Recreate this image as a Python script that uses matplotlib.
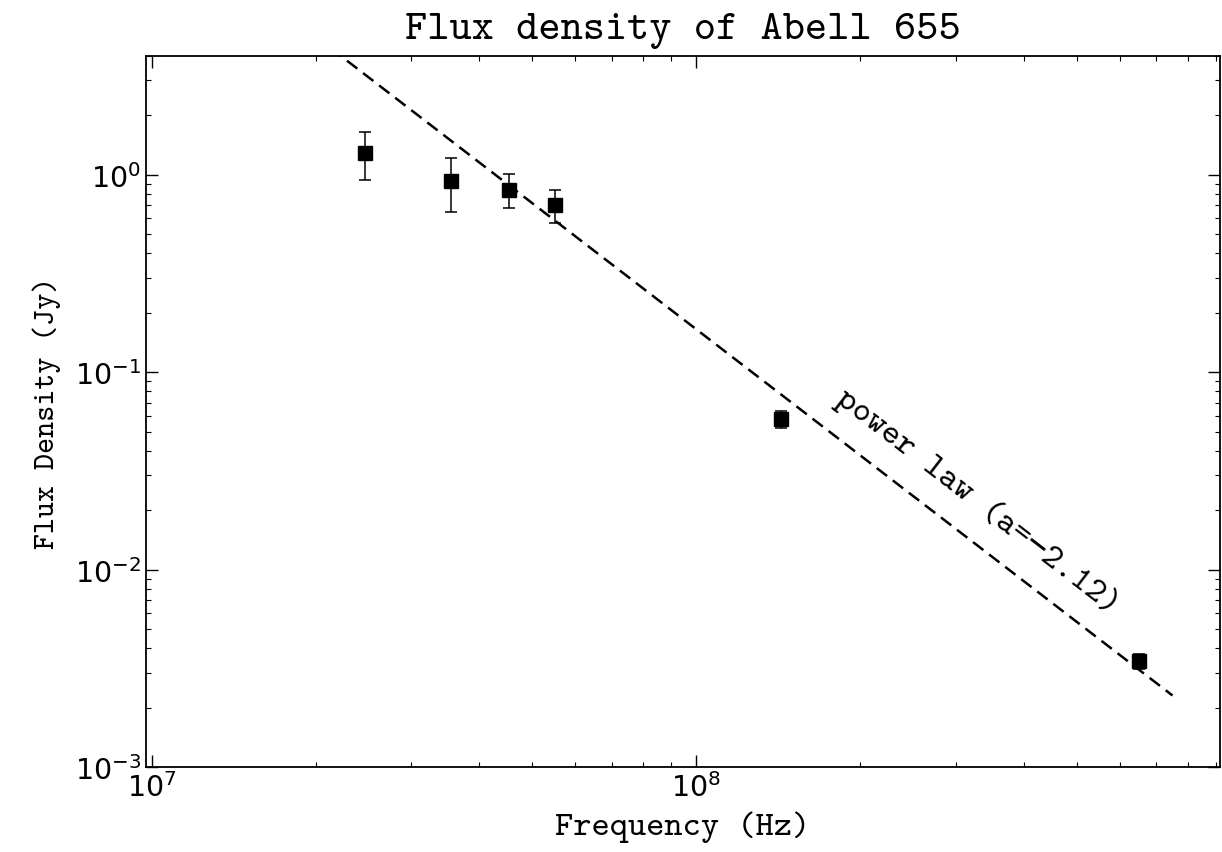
import matplotlib
matplotlib.use('Agg')
import matplotlib.pyplot as plt
import numpy as np

# measured flux densities of Abell 655
freq = np.array([2.47e7, 3.55e7, 4.53e7, 5.51e7, 1.43e8, 6.5e8])   # Hz
flux = np.array([1.29, 0.93, 0.84, 0.705, 0.058, 0.00343])          # Jy
flux_err = np.array([0.35, 0.28, 0.165, 0.135, 0.0056, 0.0003])

# power law fit
alpha = -2.12
norm = 0.165          # Jy at 100 MHz
fit_freq = np.array([1.5e7, 7.5e8])
fit_flux = norm * (fit_freq / 1e8) ** alpha

tt = ['cmtt10', 'DejaVu Sans Mono']

fig = plt.figure(figsize=(12.22, 8.53), dpi=100)
ax = fig.add_axes([0.1192, 0.0996, 0.8794, 0.8339])

ax.plot(fit_freq, fit_flux, color='black', lw=1.8, ls=(0, (5.2, 2.9)))
ax.errorbar(freq, flux, yerr=flux_err, fmt='s', color='black', ms=9.5,
            elinewidth=1.1, capsize=4.5, capthick=1.1)

ax.set_xscale('log')
ax.set_yscale('log')
ax.set_xlim(9.75e6, 9.18e8)
ax.set_ylim(1e-3, 4.0)

ax.tick_params(which='both', direction='in', top=True, right=True, labelsize=20.5)
ax.tick_params(which='major', length=8.4, width=1.0)
ax.tick_params(which='minor', length=3.6, width=0.8)
for s in ax.spines.values():
    s.set_linewidth(1.3)

ax.text(3.3e8, 0.0222, 'power law (a=\u22122.12)', family=tt, fontsize=25,
        rotation=-37.6, rotation_mode='anchor', ha='center', va='center')

ax.set_xlabel('Frequency (Hz)', family=tt, fontsize=25, labelpad=6)
ax.set_ylabel('Flux Density (Jy)', family=tt, fontsize=22, labelpad=10)
ax.set_title('Flux density of Abell 655', family=tt, fontsize=30.5, pad=13)

fig.savefig('out.png', dpi=100)
